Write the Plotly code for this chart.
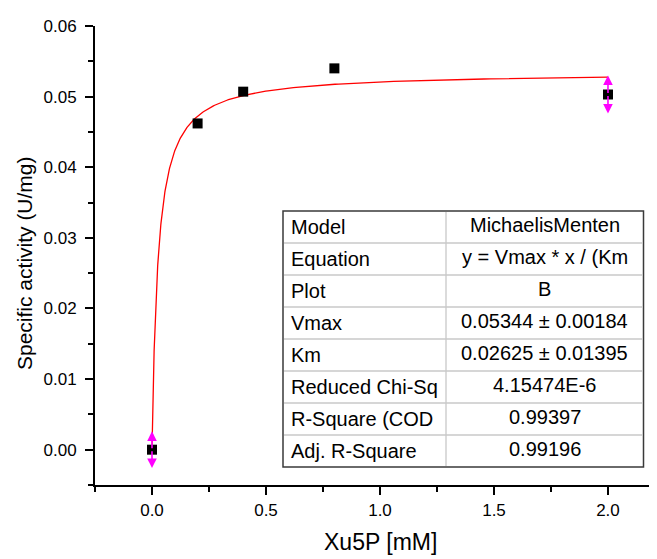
import numpy as np
import plotly.graph_objects as go

# ---- data ----
x_data = [0.0, 0.2, 0.4, 0.8, 2.0]
y_data = [0.0, 0.0462, 0.0507, 0.0540, 0.0503]
err_x = [0.0, 2.0]
err_y = [0.0, 0.0503]
err_val = [0.0026, 0.0027]

vmax = 0.05344
km = 0.02625

table_labels = ["Model", "Equation", "Plot", "Vmax", "Km",
                "Reduced Chi-Sq", "R-Square (COD", "Adj. R-Square"]
table_values = ["MichaelisMenten", "y = Vmax * x / (Km", "B",
                "0.05344 ± 0.00184", "0.02625 ± 0.01395",
                "4.15474E-6", "0.99397", "0.99196"]

x_ticks = [0.0, 0.5, 1.0, 1.5, 2.0]
y_ticks = [0.00, 0.01, 0.02, 0.03, 0.04, 0.05, 0.06]

# ---- geometry (page pixels; page body has an 8px margin) ----
OFF = 8
W, H = 657 - OFF, 559 - OFF
L, R, T, B = 95 - OFF, 657 - OFF, 26 - OFF, 485 - OFF
FONT = "Liberation Sans, Arial, sans-serif"


def px(xp):
    return (xp - OFF - L) / (R - L)


def py(yp):
    return (B - (yp - OFF)) / (B - T)


# fitted Michaelis-Menten curve from the reported parameters
xf = np.concatenate([[0.0], np.geomspace(1e-4, 2.0, 500)])
yf = vmax * xf / (km + xf)

fig = go.Figure()
fig.add_trace(go.Scatter(x=xf, y=yf, mode="lines",
                         line=dict(color="#ff0000", width=1.3),
                         hoverinfo="skip", showlegend=False))
fig.add_trace(go.Scatter(x=x_data, y=y_data, mode="markers",
                         marker=dict(symbol="square", size=10, color="black",
                                     line=dict(width=0)),
                         showlegend=False))

annotations = []
for xe, ye, ev in zip(err_x, err_y, err_val):
    for sgn in (1, -1):
        annotations.append(dict(
            x=xe, y=ye + sgn * ev, ax=xe, ay=ye, xref="x", yref="y",
            axref="x", ayref="y", text="", showarrow=True,
            arrowhead=2, arrowsize=1.2, arrowwidth=1.6,
            arrowcolor="#ff00ff", standoff=0, startstandoff=0))

# ---- table ----
tl, tr, tt, tb, tc = 283, 643.5, 211, 467, 446
nrows = len(table_labels)
rh = (tb - tt) / nrows
shapes = [dict(type="rect", xref="paper", yref="paper",
               x0=px(tl), x1=px(tr), y0=py(tb), y1=py(tt),
               fillcolor="white", line=dict(color="#3a3a3a", width=1.5),
               layer="above")]
for i in range(1, nrows):
    yy = tt + i * rh
    shapes.append(dict(type="line", xref="paper", yref="paper",
                       x0=px(tl + 1), x1=px(tr - 1), y0=py(yy), y1=py(yy),
                       line=dict(color="#c8c8c8", width=1.3), layer="above"))
shapes.append(dict(type="line", xref="paper", yref="paper",
                   x0=px(tc), x1=px(tc), y0=py(tb - 1), y1=py(tt + 1),
                   line=dict(color="#c8c8c8", width=1.3), layer="above"))
for i, (lab, val) in enumerate(zip(table_labels, table_values)):
    yc = tt + (i + 0.5) * rh
    annotations.append(dict(x=px(289), y=py(yc), xref="paper", yref="paper",
                            text=lab, showarrow=False, xanchor="left",
                            yanchor="middle",
                            font=dict(family=FONT, size=20, color="black")))
    annotations.append(dict(x=px((tc + tr) / 2), y=py(yc - 2), xref="paper",
                            yref="paper", text=val, showarrow=False,
                            xanchor="center", yanchor="middle",
                            font=dict(family=FONT, size=20, color="black")))

# axis titles
annotations.append(dict(x=px(380), y=py(542), xref="paper", yref="paper",
                        text="Xu5P [mM]", showarrow=False, xanchor="center",
                        yanchor="middle",
                        font=dict(family=FONT, size=23, color="black")))
annotations.append(dict(x=px(25), y=py(263), xref="paper", yref="paper",
                        text="Specific activity (U/mg)", showarrow=False,
                        textangle=-90, xanchor="center", yanchor="middle",
                        font=dict(family=FONT, size=21, color="black")))

fig.update_layout(
    width=W, height=H, autosize=False,
    margin=dict(l=L, r=W - R, t=T, b=H - B, pad=0),
    plot_bgcolor="white", paper_bgcolor="white",
    shapes=shapes, annotations=annotations, showlegend=False,
    font=dict(family=FONT, color="black"),
)
fig.update_xaxes(
    range=[-0.25, 2.215], showgrid=False, zeroline=False,
    showline=True, linecolor="black", linewidth=2,
    ticks="outside", ticklen=8, tickwidth=1.5, tickcolor="black",
    tickvals=x_ticks, ticktext=[f"{v:.1f}" for v in x_ticks],
    tickfont=dict(family=FONT, size=17, color="black"),
    ticklabelstandoff=1,
    minor=dict(ticks="outside", ticklen=5, tickwidth=1.5, tickcolor="black",
               tickvals=[-0.25, 0.25, 0.75, 1.25, 1.75], showgrid=False),
)
fig.update_yaxes(
    range=[-0.005, 0.06], showgrid=False, zeroline=False,
    showline=True, linecolor="black", linewidth=2,
    ticks="outside", ticklen=8, tickwidth=1.5, tickcolor="black",
    tickvals=y_ticks, ticktext=[f"{v:.2f}" for v in y_ticks],
    tickfont=dict(family=FONT, size=17, color="black"),
    ticklabelstandoff=5,
    minor=dict(ticks="outside", ticklen=5, tickwidth=1.5, tickcolor="black",
               tickvals=[-0.005, 0.005, 0.015, 0.025, 0.035, 0.045, 0.055],
               showgrid=False),
)

fig.write_html("out.html")
